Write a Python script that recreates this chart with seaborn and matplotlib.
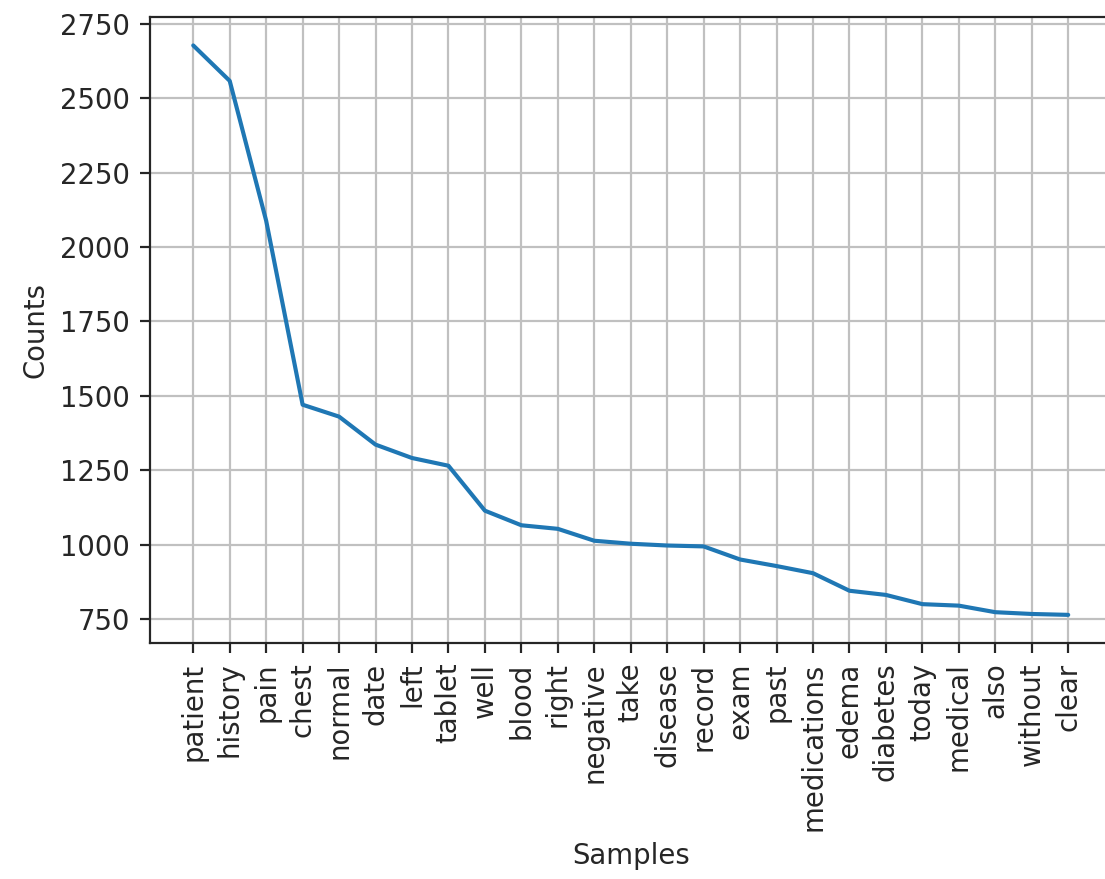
import matplotlib
matplotlib.use("Agg")
import matplotlib.pyplot as plt
import seaborn as sns
import pandas as pd

words = ["patient", "history", "pain", "chest", "normal", "date", "left", "tablet",
         "well", "blood", "right", "negative", "take", "disease", "record", "exam",
         "past", "medications", "edema", "diabetes", "today", "medical", "also",
         "without", "clear"]
counts = [2677, 2558, 2088, 1470, 1430, 1336, 1291, 1265,
          1114, 1065, 1053, 1013, 1003, 997, 994, 950,
          928, 904, 845, 831, 800, 795, 773, 767, 764]

sns.set_style("ticks")
plt.rcParams["font.family"] = ["DejaVu Sans"]

df = pd.DataFrame({"Samples": words, "Counts": counts})

fig = plt.figure(figsize=(1105 / 198, 879 / 198), dpi=198)
ax = fig.add_axes([0.1353, 0.2681, 1.0063 - 0.1353, 0.9807 - 0.2681])

sns.lineplot(data=df, x="Samples", y="Counts", sort=False, ax=ax,
             color="#1f77b4", linewidth=1.5)
ax.grid(True, color="silver", linewidth=0.8)
ax.set_axisbelow(True)
ax.tick_params(axis="x", labelrotation=90)
ax.set_xlim(-1.2, len(words) - 1 + 1.2)
for s in ax.spines.values():
    s.set_visible(True)
    s.set_linewidth(0.8)
ax.set_xlabel("Samples")
ax.set_ylabel("Counts")

fig.savefig("out.png", dpi=198)
